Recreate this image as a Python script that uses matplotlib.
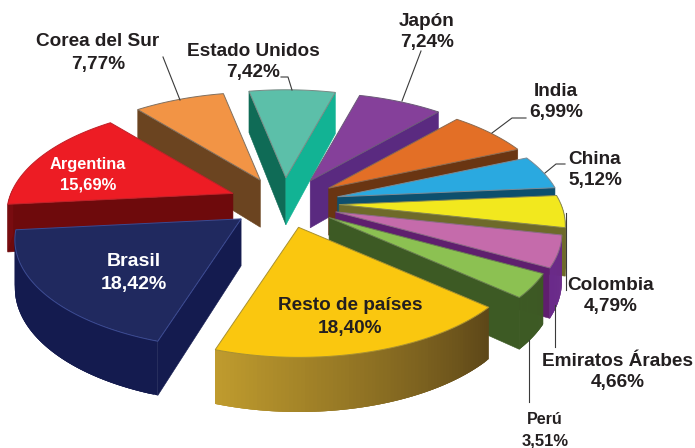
import numpy as np
import matplotlib
matplotlib.use("Agg")
import matplotlib.pyplot as plt
from matplotlib.patches import Polygon
from matplotlib.colors import to_rgb

plt.rcParams['font.family'] = ['Liberation Sans', 'DejaVu Sans']

# ---- data (clockwise from the top slice) ----
categories = ["Estado Unidos", "Japón", "India", "China", "Colombia", "Emiratos Árabes",
              "Perú", "Resto de países", "Brasil", "Argentina", "Corea del Sur"]
values = [7.42, 7.24, 6.99, 5.12, 4.79, 4.66, 3.51, 18.40, 18.42, 15.69, 7.77]

# ---- styles ----
top_colors = ["#5cbfa9", "#85409a", "#e36f26", "#2aa9e0", "#f2e81e", "#c56bab",
              "#8cc152", "#fac70f", "#20295f", "#ed1c24", "#f29445"]
# wall colour for the clockwise-start edge and the clockwise-end edge
wall_start = ["#0f6b56", "#5a2a80", "#6a3512", "#0d4f6d", "#6e6a2a", "#5f1f6e",
              "#3d5a24", "#7a6020", "#141b4f", "#6e0a0c", "#6b4420"]
wall_end = ["#12b394", "#5a2a80", "#6a3512", "#0d4f6d", "#6e6a2a", "#5f1f6e",
            "#3d5a24", "#7a6020", "#141b4f", "#6e0a0c", "#6b4420"]
rim_from = ["#12b394", "#5a2a80", "#6a3512", "#0d4f6d", "#6e6a2a", "#6a2a8a",
            "#3d5a24", "#5c4618", "#141b4f", "#7a0c10", "#6b4420"]
rim_to = ["#12b394", "#5a2a80", "#6a3512", "#0d4f6d", "#6e6a2a", "#6a2a8a",
          "#3d5a24", "#c09c2e", "#141b4f", "#6e0a0c", "#6b4420"]
edge_colors = ["#7a8a85", "#6b5a78", "#8a6a50", "#7a8a95", "#8a8a50", "#8a6a85",
               "#6a8050", "#a89030", "#3b4a92", "#c02028", "#807060"]
draw_order = [10, 0, 1, 2, 3, 4, 5, 6, 7, 9, 8]

label_xy = [(253, 52), (427, 22), (556, 92), (595, 159), (611, 285), (618, 361),
            (545, 420), (350, 306), (134, 262), (88, 165), (98, 42)]
label_color = ["#231f20"] * 8 + ["white", "white", "#231f20"]
label_size = [13.7, 13.7, 13.7, 13.7, 13.7, 13.7, 11.5, 13.7, 14, 11.8, 13.7]
value_gap = [21, 21, 21, 22, 22, 22, 21, 22, 23, 20, 22]

leaders = [[(281, 77), (288, 77), (292, 90)],
           [(421, 51), (402, 101)],
           [(526, 118), (512, 118), (492, 133)],
           [(565, 164), (556, 164), (545, 173)],
           [(566, 213), (566, 290)],
           [(555, 305), (555, 347)],
           [(529, 340), (529, 402)],
           [(163, 57), (180, 100)]]

# ---- pie geometry, in image pixels ----
cx, cy = 284, 203
A_explode = 230
A, B = 222, 105
k = 0.1926
explode = 0.24
depth0 = 47
first_angle = -11.4


def arc(theta, apex):
    s = 1 / (1 + k * np.cos(theta))
    return apex[0] + A * np.sin(theta) * s, apex[1] - B * np.cos(theta) * s


def depth(theta):
    return depth0 / (1 + 0.14 * np.cos(theta))


fig = plt.figure(figsize=(6.95, 4.48), dpi=100)
ax = fig.add_axes([0, 0, 1, 1])
ax.set_xlim(0, 695)
ax.set_ylim(448, 0)
ax.axis("off")

vals = np.array(values)
edges = np.radians(first_angle + np.concatenate([[0], np.cumsum(vals) / vals.sum() * 360]))
z = 1

for i in draw_order:
    t0, t1 = edges[i], edges[i + 1]
    mid = (t0 + t1) / 2
    apex = (cx + A_explode * explode * np.sin(mid), cy - B * explode * np.cos(mid))
    th = np.linspace(t0, t1, 80)
    xs, ys = arc(th, apex)
    inner = arc(mid, apex)
    inner = ((inner[0] + apex[0]) / 2, (inner[1] + apex[1]) / 2)

    # radial walls: only those whose slice lies above them on screen
    for t, col in ((t0, wall_start[i]), (t1, wall_end[i])):
        ex, ey = arc(t, apex)
        if abs(ex - apex[0]) < 1e-6:
            continue
        yline = apex[1] + (ey - apex[1]) * (inner[0] - apex[0]) / (ex - apex[0])
        if inner[1] < yline:
            ax.add_patch(Polygon([apex, (ex, ey), (ex, ey + depth(t)), (apex[0], apex[1] + depth0)],
                                 closed=True, fc=col, ec=col, lw=0.4, zorder=z))
            z += 1

    # outer rim, shaded along the arc; quads overlap the next ones to hide seams
    c0, c1 = np.array(to_rgb(rim_from[i])), np.array(to_rgb(rim_to[i]))
    n = len(th)
    for j in range(n - 1):
        if np.cos(th[j]) > 0.02:
            continue
        f = (j + 0.5) / (n - 1)
        col = c0 * (1 - f) + c1 * f
        e = min(j + 3, n - 1)
        ax.add_patch(Polygon([(xs[j], ys[j]), (xs[e], ys[e]),
                              (xs[e], ys[e] + depth(th[e])),
                              (xs[j], ys[j] + depth(th[j]))],
                             closed=True, fc=col, ec="none", lw=0, zorder=z))
        z += 1

    # top face
    ax.add_patch(Polygon(np.column_stack([np.r_[apex[0], xs], np.r_[apex[1], ys]]),
                         closed=True, fc=top_colors[i], ec=edge_colors[i], lw=0.7, zorder=z))
    z += 1

z += 1
for pts in leaders:
    p = np.array(pts)
    ax.plot(p[:, 0], p[:, 1], color="#3a3a3a", lw=0.8, zorder=z)

for name, v, (x, y), c, s, g in zip(categories, values, label_xy, label_color, label_size, value_gap):
    txt = f"{v:.2f}%".replace(".", ",")
    ax.text(x, y, name, color=c, fontsize=s, fontweight="bold", ha="center", va="center", zorder=z + 1)
    ax.text(x, y + g, txt, color=c, fontsize=s if s > 12 else 12, fontweight="bold",
            ha="center", va="center", zorder=z + 1)

fig.savefig("out.png", dpi=100, facecolor="white")
